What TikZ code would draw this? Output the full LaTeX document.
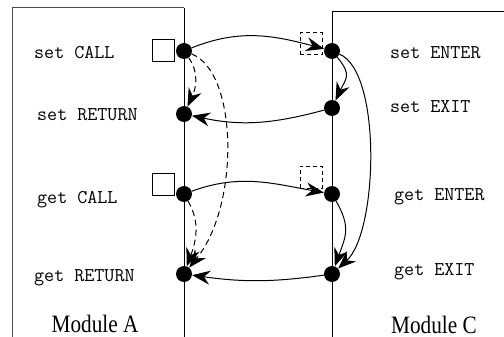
\documentclass[tikz,border=0pt]{standalone}
\usepackage{fontspec}
\setmainfont{Liberation Serif}
\usetikzlibrary{arrows.meta}
\begin{document}
\begin{tikzpicture}[x=1pt,y=-1pt,
  dot/.style={circle,fill=black,inner sep=0pt,minimum size=16pt},
  lbl/.style={anchor=base west,inner sep=0pt,font=\ttfamily\fontsize{19.5}{22}\selectfont},
  modlbl/.style={anchor=base,inner sep=0pt,font=\fontsize{25}{28}\selectfont,xscale=0.85,transform shape},
  conn/.style={line width=1pt,-{Stealth[length=18pt,width=14pt,inset=6pt]}},
  dconn/.style={conn,dash pattern=on 6pt off 4pt},
  boxline/.style={line width=1pt},
  sq/.style={draw,line width=1pt,minimum size=22pt,inner sep=0pt},
  dsq/.style={sq,dash pattern=on 4pt off 3pt}]
\useasboundingbox (0,0) rectangle (504,337);
% module frames
\draw[boxline,black!70] (12,337) -- (12,8) -- (184,8);
\draw[boxline] (184,8) -- (184,337);
\draw[boxline] (504,12) -- (332,12) -- (332,337);
% dots
\node[dot] (sc) at (184,51) {};
\node[dot] (sr) at (184,114) {};
\node[dot] (gc) at (184,194) {};
\node[dot] (gr) at (184,274) {};
\node[dot] (se) at (332,51) {};
\node[dot] (sx) at (332,108) {};
\node[dot] (ge) at (332,194) {};
\node[dot] (gx) at (332,274) {};
% squares
\node[sq] (sq1) at (163,51) {};
\node[sq] (sq2) at (163,184) {};
\node[dsq] (dq1) at (311,44) {};
\node[dsq] (dq2) at (311,177) {};
% labels
\node[lbl] (l1) at (34,59) {set CALL};
\node[lbl] (l2) at (37,121) {set RETURN};
\node[lbl] (l3) at (37,203) {get CALL};
\node[lbl] (l4) at (34,281) {get RETURN};
\node[lbl] (l5) at (390,59) {set ENTER};
\node[lbl] (l6) at (390,113) {set EXIT};
\node[lbl] (l7) at (394,200) {get ENTER};
\node[lbl] (l8) at (394,275) {get EXIT};
\node[modlbl] (ma) at (95,332) {Module A};
\node[modlbl] (mc) at (434,333) {Module C};
% connectors
\draw[conn] (sc) to[out=22,in=165] (se);
\draw[conn] (sx) to[out=195,in=-12] (sr);
\draw[conn] (gc) to[out=20,in=170] (ge);
\draw[conn] (gx) to[out=188,in=-8] (gr);
\draw[dconn] (sc) to[out=-55,in=65] (sr);
\draw[dconn] (gc) to[out=-60,in=70] (gr);
\draw[dconn] (sc) .. controls (238,72) and (240,205) .. (gr);
\draw[conn] (se) to[out=-50,in=65,looseness=1.4] (sx);
\draw[conn] (ge) to[out=-60,in=70,looseness=1.2] (gx);
\draw[conn] (se) .. controls (382,72) and (378,232) .. (gx);
\end{tikzpicture}
\end{document}
